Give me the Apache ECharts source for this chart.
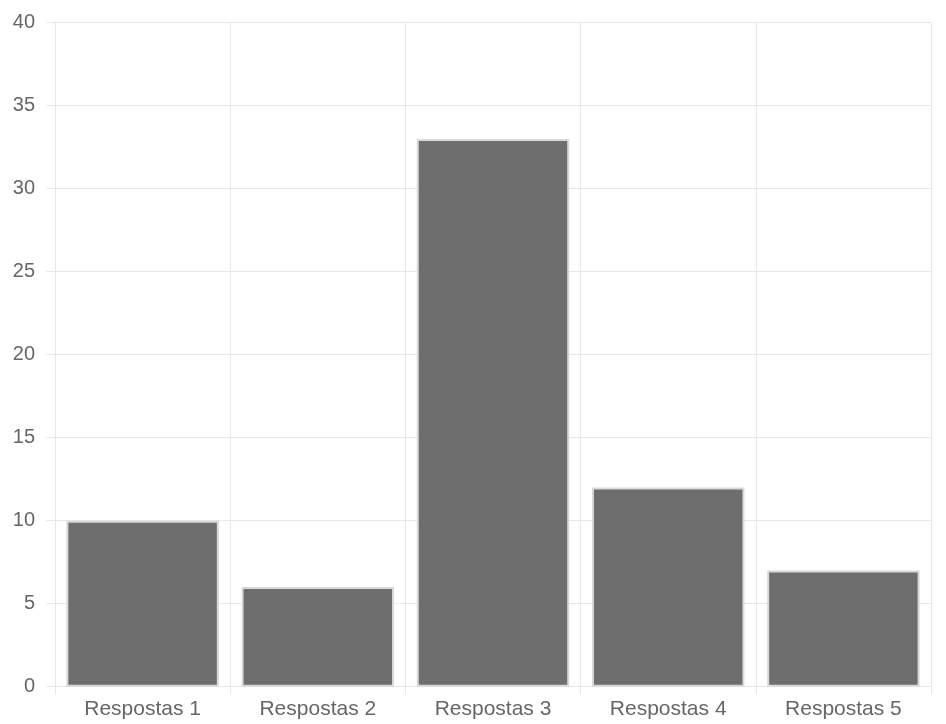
<!DOCTYPE html>
<html>
<head>
<meta charset="utf-8">
<script src="https://cdn.jsdelivr.net/npm/echarts@6/dist/echarts.min.js"></script>
<style>
html,body{margin:0;padding:0;background:#fff;}
#c{width:946px;height:724px;}
</style>
</head>
<body>
<div id="c"></div>
<script>
const categories = ['Respostas 1', 'Respostas 2', 'Respostas 3', 'Respostas 4', 'Respostas 5'];
const values = [10, 6, 33, 12, 7];
const yTicks = [0, 5, 10, 15, 20, 25, 30, 35, 40];

const chart = echarts.init(document.getElementById('c'));
const gridColor = '#e8e8e8';
const font = 'Liberation Sans, Arial, sans-serif';
chart.setOption({
  animation: false,
  grid: { left: 55, right: 15, top: 22.7, bottom: 37.3, containLabel: false },
  xAxis: {
    type: 'category',
    data: categories,
    axisLine: { show: true, lineStyle: { color: gridColor, width: 1 } },
    axisTick: { show: true, length: 8, lineStyle: { color: gridColor } },
    splitLine: { show: true, lineStyle: { color: gridColor } },
    axisLabel: { color: '#666', fontSize: 21, fontFamily: font, margin: 12 }
  },
  yAxis: {
    type: 'value',
    min: yTicks[0],
    max: yTicks[yTicks.length - 1],
    interval: 5,
    axisLine: { show: true, lineStyle: { color: gridColor } },
    axisTick: { show: true, length: 9, lineStyle: { color: gridColor } },
    splitLine: { show: true, lineStyle: { color: gridColor } },
    axisLabel: { color: '#666', fontSize: 20, fontFamily: font, margin: 20 }
  },
  series: [{
    type: 'bar',
    data: values,
    barWidth: '87%',
    itemStyle: { color: '#6e6e6e', borderColor: '#d8d8d8', borderWidth: 2 }
  }]
});
</script>
</body>
</html>
